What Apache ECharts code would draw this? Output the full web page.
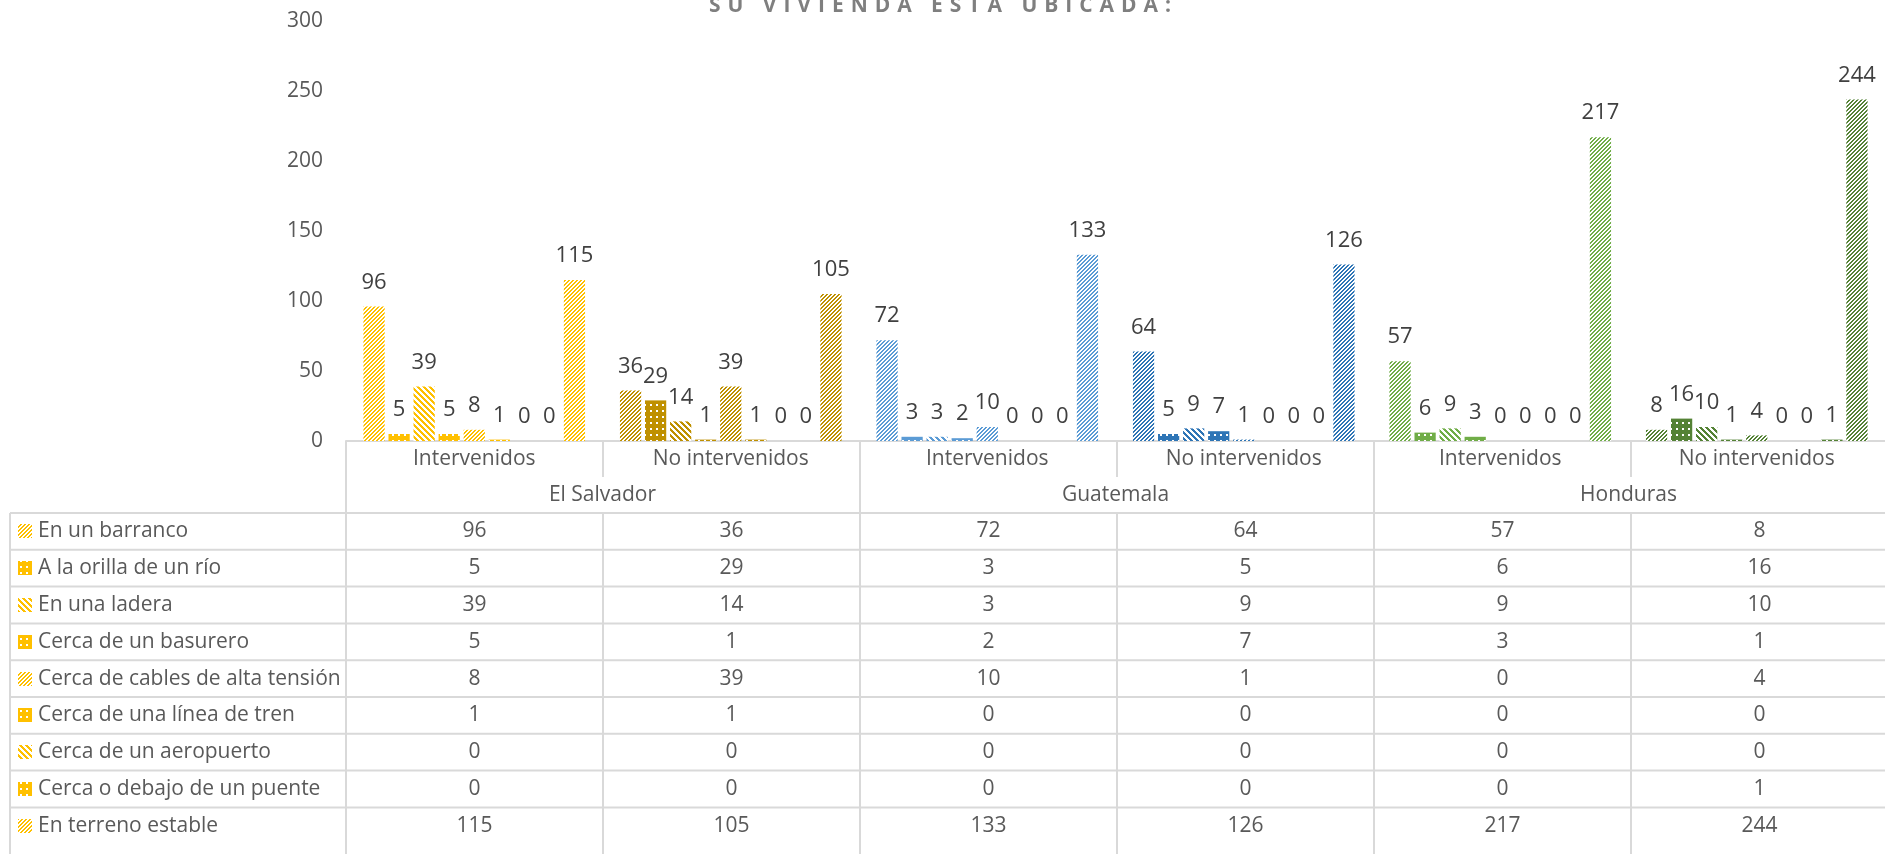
<!DOCTYPE html>
<html><head><meta charset="utf-8">
<script src="https://cdn.jsdelivr.net/npm/echarts@6/dist/echarts.min.js"></script>
<style>html,body{margin:0;padding:0;background:#fff}#c{width:1885px;height:854px}</style>
</head><body><div id="c"></div>
<script>
// ---- data ----
const countries = ['El Salvador', 'Guatemala', 'Honduras'];
const categories = ['Intervenidos', 'No intervenidos', 'Intervenidos', 'No intervenidos', 'Intervenidos', 'No intervenidos'];
const seriesNames = ['En un barranco', 'A la orilla de un río', 'En una ladera', 'Cerca de un basurero',
  'Cerca de cables de alta tensión', 'Cerca de una línea de tren', 'Cerca de un aeropuerto',
  'Cerca o debajo de un puente', 'En terreno estable'];
const enUnBarranco = [96, 36, 72, 64, 57, 8];
const orillaRio = [5, 29, 3, 5, 6, 16];
const enLadera = [39, 14, 3, 9, 9, 10];
const basurero = [5, 1, 2, 7, 3, 1];
const cablesAltaTension = [8, 39, 10, 1, 0, 4];
const lineaTren = [1, 1, 0, 0, 0, 0];
const aeropuerto = [0, 0, 0, 0, 0, 0];
const puente = [0, 0, 0, 0, 0, 1];
const terrenoEstable = [115, 105, 133, 126, 217, 244];
const seriesValues = [enUnBarranco, orillaRio, enLadera, basurero, cablesAltaTension, lineaTren, aeropuerto, puente, terrenoEstable];
const yMin = 0, yMax = 300, yStep = 50;
const titleText = 'SU VIVIENDA ESTÁ UBICADA:';

// ---- style ----
const columnColors = ['#FFC000', '#BF9000', '#5B9BD5', '#2E75B6', '#70AD47', '#548235'];
const seriesPatterns = ['up', 'dot', 'down', 'dot', 'up', 'dot', 'down', 'dot', 'up'];
const FONT = '"Open Sans", sans-serif';
const TXT = '#595959';
const LINE = '#D9D9D9';
const FS = 21;
const G = { left: 346, top: 21, width: 1542, height: 420 };
const ROW0 = 513, ROWH = 36.8;

function makePattern(type, color) {
  const n = type === 'up' ? 4 : 6;
  const c = document.createElement('canvas');
  c.width = n; c.height = n;
  const ctx = c.getContext('2d');
  if (type === 'dot') {
    ctx.fillStyle = color; ctx.fillRect(0, 0, n, n);
    ctx.fillStyle = '#ffffff'; ctx.fillRect(2, 2, 2, 2);
  } else {
    ctx.fillStyle = '#ffffff'; ctx.fillRect(0, 0, n, n);
    ctx.fillStyle = color;
    for (let x = 0; x < n; x++) for (let y = 0; y < n; y++) {
      const v = type === 'up' ? (x + y) % n : (((x - y) % n) + n) % n;
      if (v < n / 2) ctx.fillRect(x, y, 1, 1);
    }
  }
  return { image: c, repeat: 'repeat' };
}

const series = seriesNames.map((name, s) => ({
  name, type: 'bar', xAxisIndex: 0, yAxisIndex: 0,
  barGap: '18%', barCategoryGap: '13.6%',
  data: seriesValues[s].map((v, i) => ({ value: v, itemStyle: { color: makePattern(seriesPatterns[s], columnColors[i]) } })),
  label: { show: true, position: 'top', distance: 13, color: '#404040', fontSize: 22, fontFamily: FONT },
  emphasis: { disabled: true }, animation: false
}));

// ---- table graphics ----
const gfx = [];
const colW = G.width / categories.length;
const nRows = seriesNames.length;
const bottomY = 854;
gfx.push({ type: 'text', x: 940, y: 6, silent: true,
  style: { text: titleText.split('').join('\u2009\u2009'), fill: '#7F7F7F', font: 'bold 21px ' + FONT, textAlign: 'center', textVerticalAlign: 'middle' } });
for (let k = 0; k <= categories.length; k++) {
  const x = G.left + colW * k;
  if (k % 2 === 0) {
    gfx.push({ type: 'line', silent: true, shape: { x1: x, y1: G.top + G.height, x2: x, y2: bottomY }, style: { stroke: LINE, lineWidth: 2 } });
  } else {
    gfx.push({ type: 'line', silent: true, shape: { x1: x, y1: G.top + G.height, x2: x, y2: 477 }, style: { stroke: LINE, lineWidth: 2 } });
    gfx.push({ type: 'line', silent: true, shape: { x1: x, y1: ROW0, x2: x, y2: bottomY }, style: { stroke: LINE, lineWidth: 2 } });
  }
}
gfx.push({ type: 'line', silent: true, shape: { x1: 10, y1: ROW0, x2: 10, y2: bottomY }, style: { stroke: LINE, lineWidth: 2 } });
for (let r = 0; r < nRows; r++) {
  const y = ROW0 + ROWH * r;
  gfx.push({ type: 'line', silent: true, shape: { x1: 10, y1: y, x2: 1885, y2: y }, style: { stroke: LINE, lineWidth: 2 } });
}
for (let r = 0; r < nRows; r++) {
  const cy = ROW0 + ROWH * (r + 0.5);
  const pat = makePattern(seriesPatterns[r], columnColors[0]);
  gfx.push({ type: 'rect', silent: true, shape: { x: 18, y: Math.round(cy - 7), width: 14, height: 14 }, style: { fill: pat } });
  gfx.push({ type: 'text', silent: true, x: 38, y: cy, style: { text: seriesNames[r], fill: TXT, font: FS + 'px ' + FONT, textAlign: 'left', textVerticalAlign: 'middle' } });
  seriesValues[r].forEach((v, i) => {
    gfx.push({ type: 'text', silent: true, x: G.left + colW * (i + 0.5), y: cy, style: { text: String(v), fill: TXT, font: FS + 'px ' + FONT, textAlign: 'center', textVerticalAlign: 'middle' } });
  });
}

const chart = echarts.init(document.getElementById('c'), null, { renderer: 'canvas' });
chart.setOption({
  animation: false,
  backgroundColor: '#ffffff',
  textStyle: { fontFamily: FONT },
  grid: { left: G.left, top: G.top, width: G.width, height: G.height, containLabel: false },
  xAxis: [
    { type: 'category', data: categories, position: 'bottom',
      axisLine: { show: true, lineStyle: { color: LINE, width: 2 } }, axisTick: { show: false },
      axisLabel: { color: TXT, fontSize: FS, fontFamily: FONT, margin: 8, interval: 0 }, splitLine: { show: false } },
    { type: 'category', data: countries, position: 'bottom', gridIndex: 0,
      axisLine: { show: false }, axisTick: { show: false },
      axisLabel: { color: TXT, fontSize: FS, fontFamily: FONT, margin: 44, interval: 0 }, splitLine: { show: false } }
  ],
  yAxis: { type: 'value', min: yMin, max: yMax, interval: yStep,
    axisLine: { show: false }, axisTick: { show: false }, splitLine: { show: false },
    axisLabel: { color: TXT, fontSize: FS, fontFamily: FONT, margin: 23 } },
  series,
  graphic: gfx
});
</script></body></html>
